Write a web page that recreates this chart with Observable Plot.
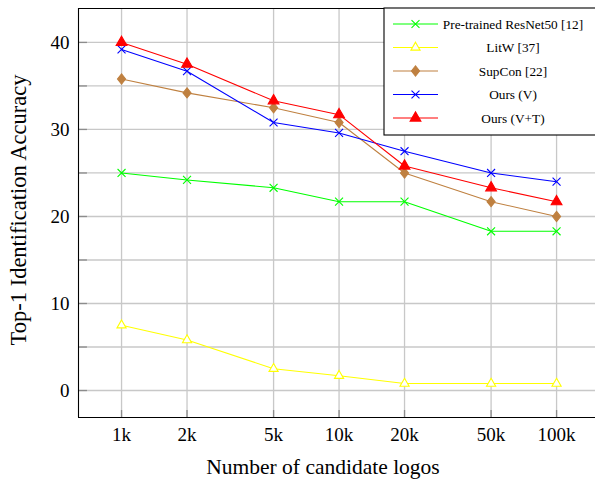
<!DOCTYPE html>
<html><head><meta charset="utf-8">
<script src="https://cdn.jsdelivr.net/npm/d3@7"></script>
<script src="https://cdn.jsdelivr.net/npm/@observablehq/plot@0.6"></script>
<style>body{margin:0;overflow:hidden;background:#fff} svg{display:block}</style>
</head><body><div id="chart"></div>
<script>
const candidates = [1000, 2000, 5000, 10000, 20000, 50000, 100000];
const tickLabels = ["1k", "2k", "5k", "10k", "20k", "50k", "100k"];
const seriesNames = ["Pre-trained ResNet50 [12]", "LitW [37]", "SupCon [22]", "Ours (V)", "Ours (V+T)"];
const resnet50 = [25.0, 24.2, 23.3, 21.7, 21.7, 18.3, 18.3];
const litw = [7.5, 5.8, 2.5, 1.7, 0.8, 0.8, 0.8];
const supcon = [35.8, 34.2, 32.5, 30.8, 25.0, 21.7, 20.0];
const oursV = [39.2, 36.7, 30.8, 29.6, 27.5, 25.0, 24.0];
const oursVT = [40.0, 37.5, 33.3, 31.7, 25.8, 23.3, 21.7];
const yTicks = [0, 10, 20, 30, 40];
const yGrid = [0, 5, 10, 15, 20, 25, 30, 35, 40];
const xLabel = "Number of candidate logos";
const yLabel = "Top-1 Identification Accuracy";

const FONT = "'Liberation Serif'";
const colors = ["#00ff00", "#ffff00", "#bf8040", "#0000ff", "#ff0000"];
const diamondWide = {
  draw(ctx, size) {
    const h = Math.sqrt(size / 1.6), w = h * 0.8;
    ctx.moveTo(0, -h); ctx.lineTo(w, 0); ctx.lineTo(0, h); ctx.lineTo(-w, 0); ctx.closePath();
  }
};
const markerStyle = [
  {symbol: d3.symbolTimes, fill: "none", stroke: colors[0], r: 3.7},
  {symbol: d3.symbolTriangle, fill: "white", stroke: colors[1], r: 3.4},
  {symbol: diamondWide, fill: colors[2], stroke: colors[2], r: 3.6},
  {symbol: d3.symbolTimes, fill: "none", stroke: colors[3], r: 3.7},
  {symbol: d3.symbolTriangle, fill: colors[4], stroke: colors[4], r: 4.0}
];
const allValues = [resnet50, litw, supcon, oursV, oursVT];
const rows = allValues.map((vals, s) => candidates.map((c, i) => ({series: seriesNames[s], s, x: c, y: vals[i]})));

const xDom = [634, 151000];
const yDom = [-3.1, 43.9];

const marks = [
  Plot.ruleY(yGrid, {stroke: "#c8c8c8", strokeWidth: 1.3}),
  Plot.ruleX(candidates, {stroke: "#c8c8c8", strokeWidth: 1.3}),
  Plot.ruleY(yGrid, {x1: xDom[0], x2: 697, stroke: "#8c8c8c", strokeWidth: 1.3}),
  Plot.ruleX(candidates, {y1: yDom[0], y2: -2.3, stroke: "#8c8c8c", strokeWidth: 1.3}),
  Plot.ruleX([xDom[0]], {stroke: "black", strokeWidth: 1.1}),
  Plot.ruleY(yDom, {stroke: "black", strokeWidth: 1.1}),
  Plot.text(candidates, {x: d => d, frameAnchor: "bottom", textAnchor: "middle", lineAnchor: "top", dy: 10, text: (d, i) => tickLabels[i], fontSize: 19, fill: "black"}),
  Plot.text(yTicks, {y: d => d, frameAnchor: "left", textAnchor: "end", lineAnchor: "middle", dx: -9, text: d => String(d), fontSize: 19, fill: "black"}),
  Plot.text([xLabel], {frameAnchor: "bottom", textAnchor: "middle", lineAnchor: "middle", dx: -14, dy: 50, fontSize: 21.5, fill: "black"}),
  Plot.text([yLabel], {frameAnchor: "left", textAnchor: "middle", lineAnchor: "middle", rotate: -90, dx: -60, dy: -3, fontSize: 22.5, fill: "black"})
];
rows.forEach((r, s) => {
  marks.push(Plot.line(r, {x: "x", y: "y", stroke: colors[s], strokeWidth: 1.1}));
});
rows.forEach((r, s) => {
  const m = markerStyle[s];
  marks.push(Plot.dot(r, {x: "x", y: "y", symbol: m.symbol, r: m.r, fill: m.fill, stroke: m.stroke, strokeWidth: 1.1}));
});

const plot = Plot.plot({
  width: 595, height: 479,
  marginLeft: 78, marginRight: 0, marginTop: 8, marginBottom: 62,
  style: {background: "white", color: "black"},
  x: {type: "log", domain: xDom, axis: null},
  y: {domain: yDom, axis: null},
  marks
});

// legend
const svg = d3.select(plot);
const lg = svg.append("g").attr("font-size", 13.3);
lg.append("rect").attr("x", 384).attr("y", 8).attr("width", 220).attr("height", 127)
  .attr("fill", "white").attr("stroke", "black").attr("stroke-width", 1.1);
seriesNames.forEach((name, i) => {
  const y = 24 + 23.5 * i;
  const m = markerStyle[i];
  lg.append("line").attr("x1", 393).attr("x2", 438).attr("y1", y).attr("y2", y)
    .attr("stroke", colors[i]).attr("stroke-width", 1.1);
  lg.append("path").attr("transform", `translate(415.5,${y})`)
    .attr("d", d3.symbol(m.symbol, Math.PI * m.r * m.r)())
    .attr("fill", m.fill).attr("stroke", m.stroke).attr("stroke-width", 1.1);
  lg.append("text").attr("x", 513).attr("y", y).attr("dy", "0.35em")
    .attr("text-anchor", "middle").attr("fill", "black").text(name);
});
svg.selectAll("text").attr("font-family", FONT).style("font-family", FONT);

document.getElementById("chart").appendChild(plot);
</script>
</body></html>
